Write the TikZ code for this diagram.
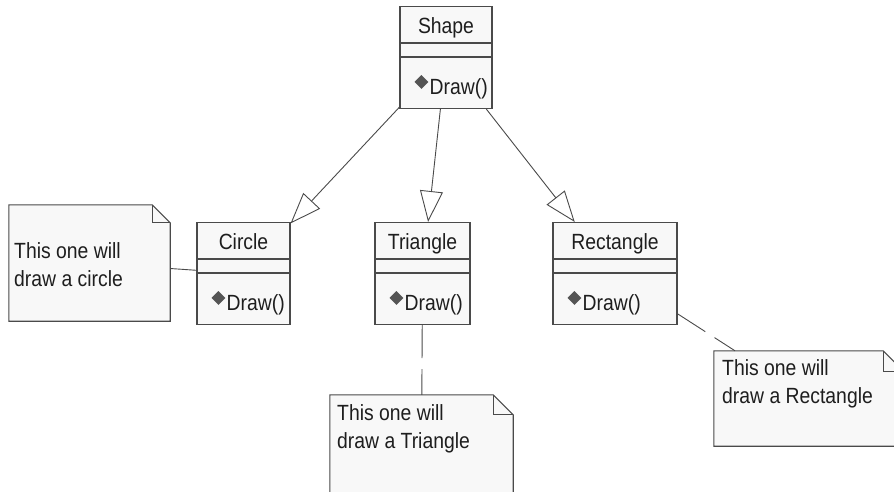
\documentclass[tikz,border=0pt]{standalone}
\usepackage{fontspec}
\setmainfont{Liberation Sans}[FakeStretch=0.88]
\usepackage{tikz}
\usetikzlibrary{calc, arrows.meta, shapes.geometric}
\definecolor{umlline}{HTML}{4A4A4A}
\definecolor{umlfill}{HTML}{F8F8F8}
\definecolor{umlicon}{HTML}{555555}
\definecolor{umltext}{HTML}{1E1E1E}
\tikzset{
	classbox/.style={draw=umlline, fill=umlfill, line width=1.1pt, inner sep=0pt, minimum height=102pt}
}
\tikzset{
	umltext/.style={font=\fontsize{22}{27.5}\selectfont\color{umltext}, inner sep=0pt},
	classname/.style={umltext, anchor=base},
	opname/.style={umltext, anchor=base west},
	opicon/.style={diamond, fill=umlicon, inner sep=0pt, minimum width=14pt, minimum height=14pt},
	notebox/.style={inner sep=0pt},
	notetext/.style={umltext, anchor=base west, align=left},
	noteline/.style={draw=umlline, fill=umlfill, line width=1.1pt},
	foldline/.style={draw=umlline, line width=1.1pt},
	genarrow/.style={draw=umlline, line width=0.9pt, -{Triangle[length=31pt, width=23pt, fill=white]}},
	notelink/.style={draw=umlline, line width=0.9pt, dash pattern=on 33pt off 11pt}
}
% note outline with a folded corner: node name, fold size
\newcommand{\umlnote}[2]{%
  \draw[noteline] (#1.north west) -- ($(#1.north east)+(-#2,0)$) -- ($(#1.north east)+(0,#2)$)
    -- (#1.south east) -- (#1.south west) -- cycle;
  \draw[foldline] ($(#1.north east)+(-#2,0)$) |- ($(#1.north east)+(0,#2)$);
}
\begin{document}
\begin{tikzpicture}[x=1pt, y=-1pt]
      \clip (0,0) rectangle (894,491);
      \fill[white] (0,0) rectangle (894,491);
      % classes
      \node[classbox, minimum width=92pt] (shapeclass) at (446,57.5) {};
      \node[classbox, minimum width=93pt] (circleclass) at (243.5,273.5) {};
      \node[classbox, minimum width=95pt] (triangleclass) at (422.5,273.5) {};
      \node[classbox, minimum width=124pt] (rectangleclass) at (615,273.5) {};
      % compartments, names and the Draw() operation
      \foreach \c/\t in {shapeclass/Shape, circleclass/Circle, triangleclass/Triangle, rectangleclass/Rectangle} {
        \draw[umlline, line width=1.1pt] ($(\c.north west)+(0,37)$) -- ($(\c.north east)+(0,37)$);
        \draw[umlline, line width=1.1pt] ($(\c.north west)+(0,51)$) -- ($(\c.north east)+(0,51)$);
        \node[classname] (\c-name) at ($(\c.north)+(0,28)$) {\t};
        \node[opicon] (\c-icon) at ($(\c.north west)+(22,76)$) {};
        \node[opname] (\c-op) at ($(\c.north west)+(30,89)$) {Draw()};
      }
      % notes
      \node[notebox, minimum width=161pt, minimum height=116pt] (circlenote) at (89.5,263) {};
      \node[notebox, minimum width=183pt, minimum height=120pt] (trianglenote) at (421.5,455) {};
      \node[notebox, minimum width=190pt, minimum height=95pt] (rectanglenote) at (809,398.5) {};
      \umlnote{circlenote}{18}
      \umlnote{trianglenote}{20}
      \umlnote{rectanglenote}{21}
      % anchor base is the baseline of the last line
      \node[notetext] (circlenote-text) at (14,286) {This one will\\draw a circle};
      \node[notetext] (trianglenote-text) at (337,448) {This one will\\draw a Triangle};
      \node[notetext] (rectanglenote-text) at (722,403) {This one will\\draw a Rectangle};
      % generalisations
      \draw[genarrow] (shapeclass) -- (circleclass);
      \draw[genarrow] (shapeclass) -- (triangleclass);
      \draw[genarrow] (shapeclass) -- (rectangleclass);
      % note links
      \draw[notelink] (circlenote) -- (circleclass);
      \draw[notelink] (triangleclass) -- (trianglenote);
      \draw[notelink] (rectangleclass) -- (rectanglenote);
    \end{tikzpicture}
\end{document}
